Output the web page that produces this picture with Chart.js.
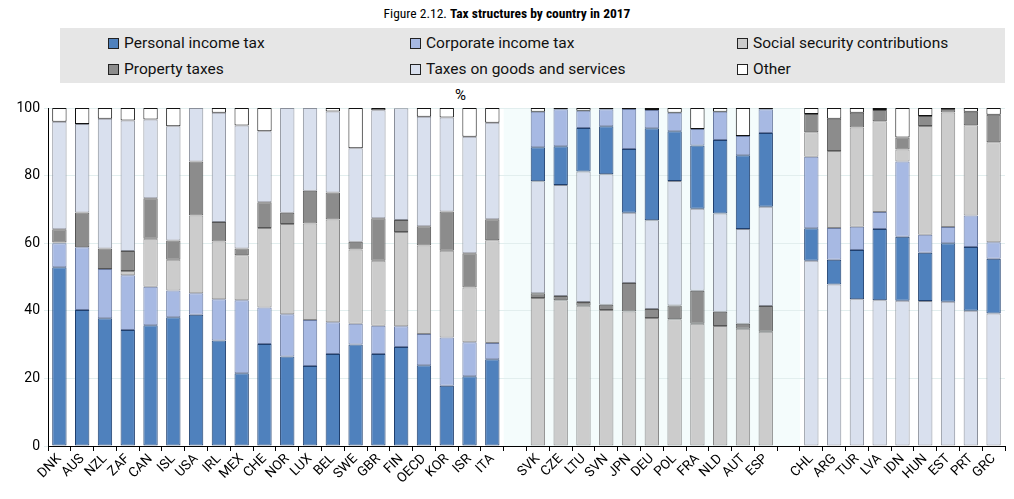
<!DOCTYPE html>
<html><head><meta charset="utf-8">
<script src="https://cdn.jsdelivr.net/npm/chart.js@4"></script>
<style>
body{margin:0;width:1014px;height:499px;background:#fff;font-family:Roboto,"Liberation Sans",sans-serif;position:relative;overflow:hidden}
#title{position:absolute;top:5px;left:0;width:1014px;text-align:center;font-size:13.5px;color:#000;font-family:"Roboto Condensed",Roboto,sans-serif}
#legend{position:absolute;left:60px;top:28px;width:945px;height:55px;background:#e6e6e6}
.li{position:absolute;font-size:15.5px;color:#111;display:flex;align-items:center}
.sw{width:11px;height:11px;border:1px solid #222;margin-right:5px;box-sizing:border-box}
#pct{position:absolute;left:455px;top:86px;font-size:15px}
#wrap{position:absolute;left:0;top:86px;width:1014px;height:413px}
canvas{display:block}
</style></head><body>
<div id="title">Figure 2.12. <b>Tax structures by country in 2017</b></div>
<div id="legend"></div>
<div id="pct">%</div>
<div id="wrap"><canvas id="c" width="1014" height="413" style="width:1014px;height:413px"></canvas></div>
<script>
const group1 = ["DNK","AUS","NZL","ZAF","CAN","ISL","USA","IRL","MEX","CHE","NOR","LUX","BEL","SWE","GBR","FIN","OECD","KOR","ISR","ITA"];
const group2 = ["SVK","CZE","LTU","SVN","JPN","DEU","POL","FRA","NLD","AUT","ESP"];
const group3 = ["CHL","ARG","TUR","LVA","IDN","HUN","EST","PRT","GRC"];
const seriesNames = ["Personal income tax","Corporate income tax","Social security contributions","Property taxes","Taxes on goods and services","Other"];
const yTicks = [0,20,40,60,80,100];
// component shares (%) per group, in group order
const pit1 = [52.9,40.2,37.8,34.3,35.7,38.1,38.8,31.2,21.5,30.2,26.5,23.7,27.2,30.0,27.2,29.3,23.9,17.8,20.6,25.7];
const cit1 = [7.1,18.6,14.6,16.2,11.4,7.9,6.4,12.2,21.6,10.8,12.5,13.6,9.4,6.2,8.4,6.1,9.2,14.3,10.1,4.8];
const ssc1 = [0.2,0,0,1.3,14.2,9.1,23.0,17.1,13.3,23.5,26.7,28.5,30.4,21.9,19.2,27.9,26.2,25.7,16.2,30.4];
const prop1 = [3.9,10.3,6.0,5.9,12.0,5.7,16.0,5.8,2.0,7.6,3.3,9.7,8.0,2.3,12.6,3.6,5.7,11.6,10.1,6.2];
const goods1 = [31.8,26.2,38.4,38.6,23.3,33.8,15.8,32.3,36.4,21.0,31.0,24.5,24.0,27.7,31.9,33.0,32.4,27.8,34.5,28.5];
const other1 = [4.1,4.7,3.2,3.7,3.4,5.4,0,1.4,5.2,6.9,0,0,1.0,11.9,0.7,0.1,2.6,2.8,8.5,4.4];
const ssc2 = [43.8,43.1,41.5,40.2,39.8,37.9,37.5,36.2,35.5,34.7,33.8];
const prop2 = [1.4,1.3,1.1,1.6,8.4,2.6,4.1,9.7,4.2,1.5,7.6];
const goods2 = [33.1,32.8,38.6,38.6,20.8,26.3,36.8,24.3,29.1,28.0,29.4];
const pit2 = [10.1,11.5,12.9,14.2,18.9,27.2,14.7,18.7,21.7,21.8,21.8];
const cit2 = [10.5,10.9,5.1,5.0,11.8,5.4,5.5,4.9,8.4,5.7,7.0];
const other2 = [1.1,0.4,0.8,0.4,0.3,0.6,1.4,6.2,1.1,8.3,0.4];
const goods3 = [54.8,47.8,43.4,43.1,43.0,42.9,42.7,40.0,39.2];
const pit3 = [9.6,7.3,14.6,21.1,18.9,14.3,17.3,18.9,16.2];
const cit3 = [21.2,9.4,6.9,5.0,22.3,5.3,4.8,9.3,4.9];
const ssc3 = [7.2,22.8,29.3,26.9,3.5,32.2,33.9,26.7,29.6];
const prop3 = [5.4,9.5,4.4,3.3,3.6,2.9,1.0,4.0,8.1];
const other3 = [1.8,3.2,1.4,0.6,8.7,2.4,0.3,1.1,2.0];

const colors = ["#4f81bd","#a7b9e3","#cccccc","#8c8c8c","#d9e0ee","#ffffff"];
const borders = ["#1f3f6e","#6a7aa0","#8a8a8a","#555555","#8a8f9a","#111111"];

const labels = [...group1, "", ...group2, " ", ...group3];
const data = seriesNames.map(()=>[]);
function addGroup(comps, order){
  const n = comps[0].length;
  for(let i=0;i<n;i++){
    let base=0; const row=[];
    for(const s of order){ const v=comps[s][i]; row[s]=[base,base+v]; base+=v; }
    for(let s=0;s<6;s++) data[s].push(row[s][1]-row[s][0]>0?row[s]:null);
  }
}
function gap(){ for(let s=0;s<6;s++) data[s].push(null); }
addGroup([pit1,cit1,ssc1,prop1,goods1,other1],[0,1,2,3,4,5]); gap();
addGroup([pit2,cit2,ssc2,prop2,goods2,other2],[2,3,4,0,1,5]); gap();
addGroup([pit3,cit3,ssc3,prop3,goods3,other3],[4,0,1,2,3,5]);

const leg=document.getElementById('legend');
const pos=[[48,6],[350,6],[677,6],[48,32],[350,32],[677,32]];
seriesNames.forEach((n,i)=>{const d=document.createElement('div');d.className='li';d.style.left=pos[i][0]+'px';d.style.top=pos[i][1]+'px';
d.innerHTML='<span class="sw" style="background:'+colors[i]+'"></span>'+n;leg.appendChild(d);});

const bg={id:'bg',beforeDraw(ch){const a=ch.chartArea,c=ch.ctx;c.save();c.fillStyle='#f4fcfc';c.fillRect(a.left,a.top,a.right-a.left,a.bottom-a.top);
 const x=ch.scales.x; const w=(x.getPixelForValue(1)-x.getPixelForValue(0));
 c.fillStyle='#ffffff';
 const e1=x.getPixelForValue(group1.length)-w/2;
 c.fillRect(a.left,a.top,e1-a.left,a.bottom-a.top);
 const s3=x.getPixelForValue(group1.length+group2.length+1)+w/2;
 c.fillRect(s3,a.top,a.right-s3,a.bottom-a.top);
 c.restore();}};
new Chart(document.getElementById('c'),{type:'bar',
 data:{labels,datasets:seriesNames.map((n,i)=>({label:n,data:data[i],backgroundColor:colors[i],borderColor:borders[i],borderWidth:1,borderSkipped:false,barPercentage:0.63,categoryPercentage:1,grouped:false}))},
 options:{animation:false,responsive:false,maintainAspectRatio:false,devicePixelRatio:1,
  layout:{padding:{top:22,right:9,left:0,bottom:0}},
  plugins:{legend:{display:false},tooltip:{enabled:false}},
  scales:{
   x:{grid:{offset:true,drawOnChartArea:false,color:'#000',tickLength:5},border:{color:'#000'},
      ticks:{color:'#000',font:{size:13.5,family:'Roboto'},maxRotation:45,minRotation:45,autoSkip:false,padding:0},
      afterFit(s){s.height=53;}},
   y:{min:0,max:100,afterBuildTicks(s){s.ticks=yTicks.map(v=>({value:v}));},
      grid:{color:'#e2eeee',drawTicks:true,tickLength:4},border:{color:'#000'},
      ticks:{color:'#000',font:{size:14,family:'Roboto'},padding:4},
      afterFit(s){s.width=48;}}
  }},plugins:[bg]});
</script>
</body></html>
